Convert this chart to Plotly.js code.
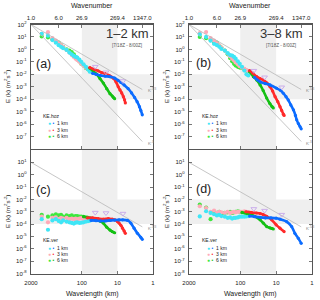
<!DOCTYPE html>
<html><head><meta charset="utf-8">
<script src="https://cdn.plot.ly/plotly-3.0.1.min.js"></script>
<style>html,body{margin:0;padding:0;background:#fff}#c{width:320px;height:300px}</style>
</head><body><div id="c"></div>
<script>
// ---------- data ----------
const DOMAIN_KM = 2694;            // wavelength of wavenumber 1
const topTickK = [1, 6, 26.9, 269.4, 1347];
const topTickText = ['1.0', '6.0', '26.9', '269.4', '1347.0'];
const botTickKm = [2694, 100, 10, 1];
const botTickText = ['2000', '100', '10', '1'];
const yTickTop = [1e2,1e1,1e0,1e-1,1e-2,1e-3,1e-4,1e-5,1e-6,1e-7];
const yTickTopText = ['2','1','0','-1','-2','-3','-4','-5','-6','-7'];
const yTickBot = [1e1,1e0,1e-1,1e-2,1e-3,1e-4,1e-5,1e-6,1e-7,1e-8];
const yTickBotText = ['1','0','-1','-2','-3','-4','-5','-6','-7','-8'];

// reference slopes (endpoints: wavelength km, E)
const refLam = [2694, 2];
const refHoz53 = [100, 6.0e-4];
const refHoz3 = [100, 4.0e-8];
const refVer53 = [10, 6.0e-5];

// effective-resolution markers (6 km, 3 km, 1 km)
const triLam = [42, 21, 7];
const triA = [4.1e-2, 1.45e-2, 2.9e-3];
const triB = [1.95e-2, 5.8e-3, 9.1e-4];
const triC = [8.5e-4, 7.9e-4, 7.1e-4];
const triD = [1.7e-3, 1.23e-3, 5.8e-4];

// large-scale points: wavenumber and E
const kLight = [2,3,4,5,6,7,8,10,12,14,16,18,20,23,26,30,35,40,45];
// panel (a) KE.hoz 1-2 km
const aCyan  = [18,12.6,5.6,3.5,2.2,1.6,1.25,0.9,0.56,0.4,0.3,0.25,0.22,0.15,0.1,0.063,0.04,0.025,0.016];
const aPink  = [18,24,8,5,3.2,2.2,1.6,0.9,0.56,0.35,0.25,0.18,0.14,0.1,0.07,0.05,0.035,0.028,0.022];
const aGreen = [11,9,6.3,4,3.5,2.2,1.6,1.0,0.8,0.6,0.4,0.25,0.16,0.11,0.07,0.05,0.032,0.025,0.02];
// panel (b) KE.hoz 3-8 km
const bCyan  = [16,10,5,2.8,2.2,1.6,1.1,0.8,0.5,0.35,0.32,0.25,0.18,0.11,0.07,0.04,0.02,0.01,0.008];
const bPink  = [20,25,8,5,3.2,2,1.4,0.8,0.45,0.28,0.18,0.13,0.09,0.063,0.045,0.035,0.028,0.022,0.018];
const bGreen = [10,8,5.6,3.2,3.5,2,1.4,0.8,0.4,0.2,0.11,0.07,0.05,0.04,0.035,0.032,0.025,0.02,0.018];
// panel (c) KE.ver 1-2 km
const cCyan  = [2.5e-4,3.5e-5,2.0e-4,2.5e-4,1.8e-4,1.4e-4,2.0e-4,1.6e-4,1.4e-4,1.25e-4,1.1e-4,1.3e-4,1.4e-4,1.25e-4,1.3e-4,1.4e-4,1.6e-4,1.7e-4,1.9e-4];
const cPink  = [4.0e-4,1.4e-4,3.2e-4,3.5e-4,2.5e-4,3.2e-4,2.8e-4,3.2e-4,2.5e-4,2.8e-4,2.5e-4,2.8e-4,2.5e-4,2.8e-4,3.0e-4,2.5e-4,2.8e-4,3.0e-4,2.9e-4];
const cGreen = [5.6e-4,4.0e-4,5.0e-4,6.3e-4,5.0e-4,5.6e-4,4.0e-4,5.0e-4,4.5e-4,5.0e-4,4.0e-4,4.5e-4,4.5e-4,4.0e-4,4.0e-4,3.8e-4,3.5e-4,3.2e-4,3.0e-4];
// panel (d) KE.ver 3-8 km
const dCyan  = [4.2e-4,1.1e-3,8e-4,6.3e-4,5e-4,5.6e-4,4.5e-4,4e-4,3.2e-4,3.5e-4,2.8e-4,3.2e-4,3.2e-4,3.5e-4,4e-4,4e-4,4e-4,4.2e-4,4.5e-4];
const dPink  = [2.8e-3,2.0e-3,1.0e-3,1.25e-3,8e-4,1.0e-3,9e-4,8e-4,1.0e-3,8e-4,9e-4,1.0e-3,9e-4,1.0e-3,1.0e-3,1.0e-3,1.1e-3,1.0e-3,9.5e-4];
const dGreen = [3.8e-3,2.2e-3,2.5e-4,1.0e-3,8e-4,1.0e-3,6.3e-4,8e-4,9e-4,1.0e-3,8e-4,9e-4,1.0e-3,1.1e-3,1.0e-3,9e-4,8.5e-4,8e-4,7.5e-4];

// small-scale dense part: wavelength km and E
const aBlueLam = [50,40,30,22,16,12,9.5,8,6.5,5,4,3.3,2.8,2.4,2.2,2.0];
const aBlueE   = [1.2e-2,1.0e-2,8e-3,7e-3,6.3e-3,5e-3,3.2e-3,2.2e-3,1.4e-3,7e-4,3.2e-4,1.4e-4,6.3e-5,2.5e-5,1.25e-5,5.6e-6];
const aRedLam  = [60,45,35,28,22,17,13,11,9.5,8.5,7.6,6.8,6.3,6.0];
const aRedE    = [3.5e-2,2.5e-2,1.9e-2,1.4e-2,1.1e-2,8e-3,4.8e-3,2.5e-3,1.0e-3,5.6e-4,3.2e-4,1.6e-4,9e-5,5e-5];
const aGrnLam  = [60,48,38,31,25,20,16.2,14,13,12];
const aGrnE    = [3.2e-2,1.8e-2,1.0e-2,4.5e-3,2.0e-3,7e-4,2.8e-4,1.8e-4,1.4e-4,1.1e-4];

const bBlueLam = [40,33,28,20,14.8,9.7,7.5,6.3,5.3,4.6,3.9,3.3,2.9,2.67,2.4,2.16,2.0];
const bBlueE   = [5.6e-3,3.5e-3,2.5e-3,1.8e-3,1.4e-3,7.6e-4,5e-4,3e-4,1.6e-4,8.7e-5,3.5e-5,1.4e-5,5e-6,2.2e-6,1.1e-6,6.3e-7,4.2e-7];
const bRedLam  = [55,45,35,28,23,18,14.8,12.5,10.7,9,7.8,7,6.3,6.0];
const bRedE    = [2.0e-2,1.25e-2,6.5e-3,4.5e-3,3.5e-3,2.0e-3,1.0e-3,4.5e-4,1.6e-4,6.3e-5,2.5e-5,1.25e-5,6.3e-6,5e-6];
const bGrnLam  = [55,43,35,28,23,18.4,15,13,12];
const bGrnE    = [1.6e-2,6.5e-3,3.5e-3,1.4e-3,5e-4,1.25e-4,4.5e-5,2.5e-5,2.0e-5];

const cBlueLam = [55,40,30,22,16,12,9,7.1,5.2,4.2,3.4,2.74,2.2,2.0];
const cBlueE   = [2.0e-4,1.9e-4,1.8e-4,1.8e-4,2.0e-4,2.1e-4,2.2e-4,2.2e-4,2.0e-4,1.2e-4,4.7e-5,1.8e-5,8.5e-6,5.9e-6];
const cRedLam  = [70,50,35,25,18,14,11.7,10,9,8,7.2,6.5,6.0];
const cRedE    = [3.2e-4,3.2e-4,2.8e-4,2.5e-4,2.8e-4,2.5e-4,2.2e-4,1.6e-4,1.2e-4,7.9e-5,4.7e-5,2.8e-5,1.8e-5];
const cGrnLam  = [90,70,50,40,30,25,20,16,14,12];
const cGrnE    = [4.0e-4,3.5e-4,2.8e-4,2.2e-4,1.7e-4,1.2e-4,5.6e-5,3.2e-5,2.5e-5,2.0e-5];

const dBlueLam = [55,40,28,20,14,10,7.8,5.1,3.7,3.0,2.4,2.0];
const dBlueE   = [4.5e-4,4.0e-4,3.5e-4,3.2e-4,3.2e-4,3.0e-4,2.5e-4,1.6e-4,6.3e-5,1.8e-5,7e-6,2.8e-6];
const dRedLam  = [70,50,35,28,22.8,18.3,13.3,10,7.8,6.0];
const dRedE    = [1.0e-3,8.9e-4,7.9e-4,7.1e-4,5.8e-4,4.2e-4,2.2e-4,8.7e-5,4.7e-5,2.5e-5];
const dGrnLam  = [90,65,48,39,28,22.8,18.3,15,13.3,12];
const dGrnE    = [8.9e-4,7.1e-4,5.8e-4,4.2e-4,2.2e-4,1.2e-4,6.3e-5,5e-5,4.5e-5,4.0e-5];

// ---------- style ----------
const FONT = 'Liberation Sans, Arial, sans-serif';
const C = {cyan:'#3fe6f6', blue:'#0b6cff', pink:'#ffaab8', red:'#ff2a2a', lgreen:'#3ee83e', green:'#14c014', tri:'#c6a6ea', ref:'#b8b8b8', band:'#efefef', frame:'#555'};
const W = 320, H = 300;
const px = x => x / W, py = y => 1 - y / H;

const panels = [
  {id:'a', x:'x',  y:'y',  xd:[31,153],  yd:[24.5,149], light:[aCyan,aPink,aGreen], blue:[aBlueLam,aBlueE], red:[aRedLam,aRedE], grn:[aGrnLam,aGrnE], tri:triA, refs:[refHoz53,refHoz3], top:true},
  {id:'b', x:'x2', y:'y2', xd:[189,312], yd:[24.5,149], light:[bCyan,bPink,bGreen], blue:[bBlueLam,bBlueE], red:[bRedLam,bRedE], grn:[bGrnLam,bGrnE], tri:triB, refs:[refHoz53,refHoz3], top:true},
  {id:'c', x:'x3', y:'y3', xd:[31,153],  yd:[150,273.5], light:[cCyan,cPink,cGreen], blue:[cBlueLam,cBlueE], red:[cRedLam,cRedE], grn:[cGrnLam,cGrnE], tri:triC, refs:[refVer53], top:false},
  {id:'d', x:'x4', y:'y4', xd:[189,312], yd:[150,273.5], light:[dCyan,dPink,dGreen], blue:[dBlueLam,dBlueE], red:[dRedLam,dRedE], grn:[dGrnLam,dGrnE], tri:triD, refs:[refVer53], top:false}
];

const traces = [];
const layout = {width:W, height:H, margin:{l:0,r:0,t:0,b:0}, showlegend:false,
  paper_bgcolor:'#fff', plot_bgcolor:'#fff', font:{family:FONT, size:6, color:'#222'},
  shapes:[], annotations:[]};

const lamLight = kLight.map(k => DOMAIN_KM / k);
const xRange = [Math.log10(DOMAIN_KM), 0];

panels.forEach((p, i) => {
  const n = i + 1;
  const xk = n === 1 ? 'xaxis' : 'xaxis' + n;
  const yk = n === 1 ? 'yaxis' : 'yaxis' + n;
  const axCommon = {type:'log', showgrid:false, zeroline:false, showline:true, linecolor:C.frame, linewidth:1.3,
    ticks:'inside', ticklen:3, tickwidth:0.8, tickcolor:C.frame, tickfont:{size:6, family:FONT, color:'#222'}};
  layout[xk] = Object.assign({}, axCommon, {domain:[px(p.xd[0]), px(p.xd[1])], anchor:p.y, range:xRange,
    tickmode:'array', tickvals:botTickKm, ticktext:botTickText, showticklabels:!p.top, mirror:true, ticklabelstandoff:3});
  layout[yk] = Object.assign({}, axCommon, {domain:[py(p.yd[1]), py(p.yd[0])], anchor:p.x, range:[-8, 2],
    tickmode:'array', tickvals: p.top ? yTickTop : yTickBot,
    ticktext: (p.top ? yTickTopText : yTickBotText).map(e => '10<sup>' + e + '</sup>'), mirror:'ticks', ticklabelstandoff:2});
  let refAxis = p.x;
  if (p.top) {
    const tn = n + 4;
    layout['xaxis' + tn] = Object.assign({}, axCommon, {overlaying:p.x, anchor:p.y, side:'top', range:xRange, showline:false,
      tickmode:'array', tickvals: topTickK.map(k => DOMAIN_KM / k), ticktext: topTickText, ticklabelstandoff:2});
    refAxis = 'x' + tn;
  }
  // grey bands
  layout.shapes.push({type:'rect', layer:'below', xref:p.x, yref:p.y + ' domain', x0:100, x1:10, y0:0, y1:1, fillcolor:C.band, line:{width:0}});
  layout.shapes.push({type:'rect', layer:'below', xref:p.x + ' domain', yref:p.y, x0:0, x1:1, y0:1e-4, y1:1e-2, fillcolor:C.band, line:{width:0}});
  // reference slopes (drawn on the wavenumber axis for the upper panels, same range)
  p.refs.forEach(r => traces.push({x:refLam, y:r, xaxis:refAxis, yaxis:p.y, mode:'lines', line:{color:C.ref, width:0.8}, hoverinfo:'skip'}));
  // large-scale light markers
  const lc = [C.cyan, C.pink, C.lgreen];
  [2,1,0].forEach(j => traces.push({x:lamLight, y:p.light[j], xaxis:p.x, yaxis:p.y, mode:'markers',
    marker:{color:lc[j], size:4.2, line:{width:0}}}));
  // dense small-scale parts
  [[p.grn, C.green],[p.red, C.red],[p.blue, C.blue]].forEach(([d, col]) => traces.push({x:d[0], y:d[1], xaxis:p.x, yaxis:p.y,
    mode:'lines+markers', line:{color:col, width:2.6, shape:'spline', smoothing:0.6}, marker:{color:col, size:3.2}}));
  // effective-resolution triangles
  traces.push({x:triLam, y:p.tri, xaxis:p.x, yaxis:p.y, mode:'markers',
    marker:{symbol:'triangle-down-open', color:C.tri, size:5, line:{width:0.9, color:C.tri}}});
});

// texts
const A = layout.annotations;
const txt = (x, y, text, size, extra) => A.push(Object.assign({xref:'paper', yref:'paper', x:px(x), y:py(y), text:text,
  showarrow:false, font:{size:size, family:FONT, color:'#222'}, xanchor:'center', yanchor:'middle'}, extra || {}));
// axis titles
txt(92, 5, 'Wavenumber', 7); txt(250, 5, 'Wavenumber', 7);
txt(92, 294, 'Wavelength (km)', 7); txt(250, 294, 'Wavelength (km)', 7);
[[7,87],[7,212],[166,87],[166,212]].forEach(([x,y]) => txt(x, y, 'E (k) (m<sup>2</sup>s<sup>-2</sup>)', 6.2, {textangle:-90}));
// panel labels
txt(43, 64, '(a)', 12.5); txt(203, 63, '(b)', 12.5); txt(43, 190, '(c)', 12.5); txt(203, 189, '(d)', 12.5);
txt(127, 34, '1–2 km', 13, {font:{size:13, family:FONT, color:'#333'}});
txt(281, 34, '3–8 km', 13, {font:{size:13, family:FONT, color:'#333'}});
txt(127, 45, '[7/18Z - 8/00Z]', 4.6, {font:{size:4.6, family:FONT, color:'#555'}});
txt(281, 45, '[7/18Z - 8/00Z]', 4.6, {font:{size:4.6, family:FONT, color:'#555'}});
// slope labels
[[146,90,'5/3'],[146,143,'3'],[304,90,'5/3'],[304,143,'3'],[146,228,'5/3'],[304,228,'5/3']].forEach(([x,y,e]) =>
  txt(x, y, 'K<sup>-' + e + '</sup>', 4.4, {xanchor:'left', font:{size:4.4, family:FONT, color:'#888'}}));
// legends
const rows = [['1 km', C.cyan, C.blue], ['3 km', C.pink, C.red], ['6 km', C.lgreen, C.green]];
[[41,116,'KE.hoz'],[200,116,'KE.hoz'],[41,240,'KE.ver'],[200,240,'KE.ver']].forEach(([x,y,t]) => {
  txt(x, y, t, 5, {xanchor:'left'});
  rows.forEach((r, j) => txt(x + 5, y + 7.5 + j * 6, '<span style="color:' + r[1] + '">●</span> <span style="color:' + r[2] + '">•</span>  ' + r[0], 5, {xanchor:'left'}));
});

Plotly.newPlot('c', traces, layout, {staticPlot:true});
</script></body></html>
